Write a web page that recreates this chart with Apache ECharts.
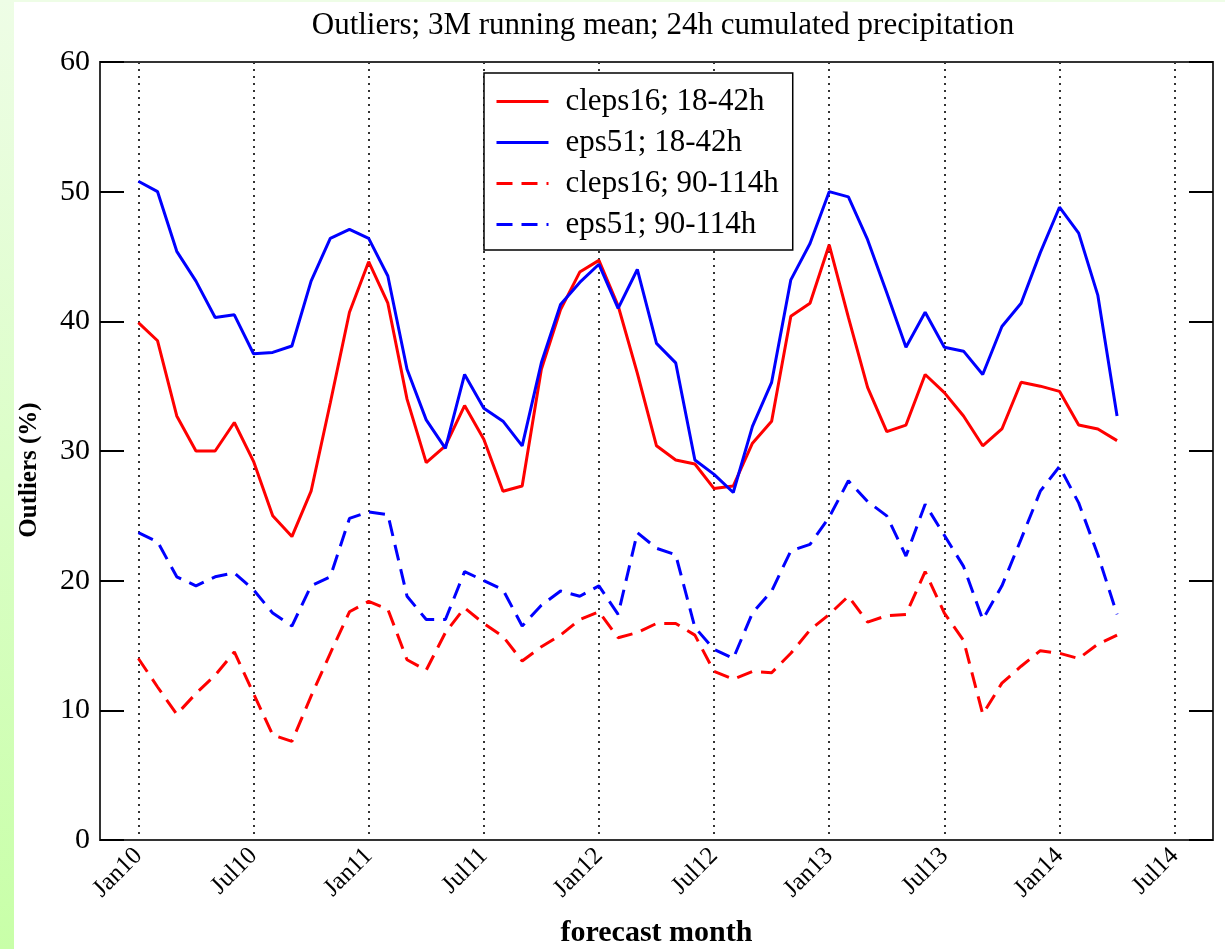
<!DOCTYPE html>
<html>
<head>
<meta charset="utf-8">
<title>Outliers; 3M running mean</title>
<script src="https://cdn.jsdelivr.net/npm/echarts@6/dist/echarts.min.js"></script>
<style>
    html, body { margin: 0; padding: 0; background: #fff; }
    #side_strip { position: absolute; left: 0; top: 0; width: 14px; height: 949px;
        background: linear-gradient(to bottom, #eefde6, #c8ffa8); }
    #top_strip { position: absolute; left: 0; top: 0; width: 1225px; height: 2px; background: #eefde6; }
    #chart_content { position: absolute; left: 0; top: 0; width: 1225px; height: 949px; }
</style>
</head>
<body>
<div id="side_strip"></div>
<div id="top_strip"></div>
<div id="chart_content"></div>
<script>
// x axis runs Nov09 .. Sep14, labels only on Jan / Jul
var axisMonths = [
    "Nov09","Dec09",
    "Jan10","Feb10","Mar10","Apr10","May10","Jun10","Jul10","Aug10","Sep10","Oct10","Nov10","Dec10",
    "Jan11","Feb11","Mar11","Apr11","May11","Jun11","Jul11","Aug11","Sep11","Oct11","Nov11","Dec11",
    "Jan12","Feb12","Mar12","Apr12","May12","Jun12","Jul12","Aug12","Sep12","Oct12","Nov12","Dec12",
    "Jan13","Feb13","Mar13","Apr13","May13","Jun13","Jul13","Aug13","Sep13","Oct13","Nov13","Dec13",
    "Jan14","Feb14","Mar14","Apr14","May14","Jun14","Jul14","Aug14","Sep14"
];
// months that have data (Jan10 .. Apr14)
var dataMonths = axisMonths.slice(2, 54);

var cleps16_short = [
    39.9, 38.5, 32.7, 30.0, 30.0, 32.2, 29.2, 25.0, 23.4, 26.9, 33.7, 40.7,
    44.6, 41.4, 34.0, 29.1, 30.4, 33.5, 30.9, 26.9, 27.3, 36.3, 40.9, 43.8,
    44.7, 41.2, 36.0, 30.4, 29.3, 29.0, 27.1, 27.3, 30.6, 32.3, 40.4, 41.4,
    45.9, 40.3, 34.9, 31.5, 32.0, 35.9, 34.5, 32.7, 30.4, 31.7, 35.3, 35.0,
    34.6, 32.0, 31.7, 30.8
];
var eps51_short = [
    50.8, 50.0, 45.4, 43.1, 40.3, 40.5, 37.5, 37.6, 38.1, 43.1, 46.4, 47.1,
    46.4, 43.5, 36.3, 32.4, 30.2, 35.9, 33.3, 32.3, 30.4, 36.8, 41.3, 43.0,
    44.4, 41.0, 44.0, 38.3, 36.8, 29.3, 28.2, 26.8, 31.9, 35.3, 43.2, 46.0,
    50.0, 49.6, 46.3, 42.2, 38.0, 40.7, 38.0, 37.7, 35.9, 39.6, 41.4, 45.3,
    48.8, 46.8, 42.0, 32.7
];
var cleps16_long = [
    14.0, 11.8, 9.7, 11.3, 12.7, 14.5, 11.3, 8.1, 7.6, 11.1, 14.4, 17.6,
    18.4, 17.8, 13.9, 13.1, 16.0, 17.9, 16.7, 15.7, 13.8, 14.9, 15.8, 17.0,
    17.6, 15.6, 16.0, 16.7, 16.7, 15.8, 13.0, 12.4, 13.0, 12.9, 14.4, 16.2,
    17.4, 18.8, 16.8, 17.3, 17.4, 20.7, 17.5, 15.4, 9.7, 12.1, 13.4, 14.6,
    14.4, 14.0, 15.1, 15.8
];
var eps51_long = [
    23.7, 23.0, 20.3, 19.6, 20.3, 20.6, 19.3, 17.5, 16.5, 19.6, 20.3, 24.8,
    25.3, 25.1, 18.8, 17.0, 17.0, 20.7, 20.0, 19.3, 16.5, 18.1, 19.2, 18.8,
    19.6, 17.4, 23.7, 22.5, 22.0, 16.4, 14.7, 14.0, 17.5, 19.2, 22.3, 22.8,
    24.9, 27.7, 26.1, 25.0, 21.9, 25.9, 23.5, 21.1, 17.0, 19.6, 23.2, 26.9,
    28.8, 26.0, 22.0, 17.4
];

var seriesNames = ["cleps16; 18-42h", "eps51; 18-42h", "cleps16; 90-114h", "eps51; 90-114h"];
var seriesValues = [cleps16_short, eps51_short, cleps16_long, eps51_long];
var seriesColors = ["#ff0000", "#0000ff", "#ff0000", "#0000ff"];
var seriesDashed = [false, false, true, true];

var serifFont = "'Liberation Serif', 'DejaVu Serif', serif";

function isLabelMonth(index, value){
    return value.indexOf("Jan") === 0 || value.indexOf("Jul") === 0;
}

var chart = echarts.init(document.getElementById("chart_content"));

var series = [];
for(var i = 0; i < seriesNames.length; i++){
    var values = seriesValues[i];
    var pairs = [];
    for(var j = 0; j < values.length; j++){
        pairs.push([dataMonths[j], values[j]]);
    }
    series.push({
        name: seriesNames[i],
        type: 'line',
        showSymbol: false,
        symbol: 'none',
        color: seriesColors[i],
        lineStyle: {
            width: 3,
            color: seriesColors[i],
            type: seriesDashed[i] ? [16, 9] : 'solid'
        },
        data: pairs
    });
}

var axisTickStyle = { show: true, inside: true, length: 24, lineStyle: { color: '#000', width: 2 } };

var option = {
    animation: false,
    backgroundColor: 'transparent',
    title: {
        text: "Outliers; 3M running mean; 24h cumulated precipitation",
        left: 658,
        top: 5,
        textAlign: 'center',
        textStyle: { fontFamily: serifFont, fontSize: 31, fontWeight: 'normal', color: '#000' }
    },
    legend: {
        orient: 'vertical',
        left: 484,
        top: 73,
        data: seriesNames,
        itemWidth: 52,
        itemHeight: 20,
        itemGap: 10,
        padding: [13, 14, 10, 11],
        backgroundColor: '#fff',
        borderColor: '#000',
        borderWidth: 1.5,
        borderRadius: 0,
        itemStyle: { opacity: 0 },
        lineStyle: { width: 3 },
        textStyle: { fontFamily: serifFont, fontSize: 31, color: '#000', lineHeight: 31, padding: [0, 0, 0, 12] }
    },
    grid: {
        show: true,
        left: 100,
        right: 12,
        top: 62,
        bottom: 109,
        outerBoundsMode: 'none',
        borderColor: '#333',
        borderWidth: 2,
        backgroundColor: '#fff'
    },
    xAxis: {
        type: 'category',
        data: axisMonths,
        boundaryGap: false,
        name: 'forecast month',
        nameLocation: 'middle',
        nameGap: 78,
        nameTextStyle: { fontFamily: serifFont, fontSize: 30, fontWeight: 'bold', color: '#000' },
        axisLine: { show: false },
        axisTick: { show: false },
        axisLabel: {
            interval: isLabelMonth,
            rotate: 45,
            margin: 12,
            fontFamily: serifFont,
            fontSize: 25,
            color: '#000'
        },
        splitLine: {
            show: true,
            interval: isLabelMonth,
            lineStyle: { type: [2, 5], color: '#333', width: 2 }
        }
    },
    yAxis: [{
        type: 'value',
        min: 0,
        max: 60,
        interval: 10,
        position: 'left',
        name: 'Outliers (%)',
        nameLocation: 'middle',
        nameGap: 58,
        nameTextStyle: { fontFamily: serifFont, fontSize: 25, fontWeight: 'bold', color: '#000', padding: [0, 38, 0, 0] },
        axisLine: { show: false },
        axisTick: axisTickStyle,
        axisLabel: { margin: 10, fontFamily: serifFont, fontSize: 30, color: '#000' },
        splitLine: { show: false }
    }, {
        type: 'value',
        min: 0,
        max: 60,
        interval: 10,
        position: 'right',
        axisLine: { show: false },
        axisTick: axisTickStyle,
        axisLabel: { show: false },
        splitLine: { show: false }
    }],
    series: series
};

chart.setOption(option, true);
window.onresize = function(){
    chart.resize();
};
</script>
</body>
</html>
